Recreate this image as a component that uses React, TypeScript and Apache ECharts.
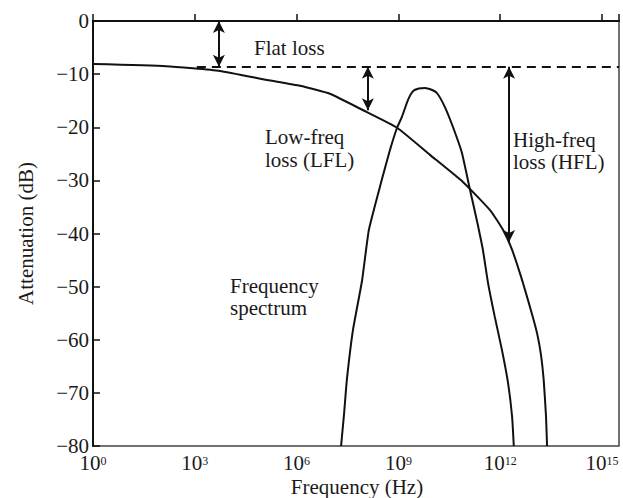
import React, { useEffect, useRef } from "react";
import * as echarts from "echarts";

// Channel attenuation curve: x = log10(frequency in Hz), y = attenuation in dB
const attenFreqExp = [0, 2.15, 3.74, 5.13, 6.1, 6.98, 7.96, 8.96, 9.93, 10.9, 11.7, 12.08, 12.35, 12.67, 12.96, 13.09, 13.2, 13.28, 13.35, 13.38];
const attenDb = [-8.1, -8.5, -9.4, -11.1, -12.2, -13.7, -16.8, -20.1, -25.2, -30.3, -35.6, -39.3, -43.1, -49.3, -55.7, -58.9, -62.8, -67.5, -74.5, -80];

// Signal frequency spectrum
const specFreqExp = [7.31, 7.4, 7.48, 7.66, 7.93, 8.13, 8.51, 8.75, 8.96, 9.1, 9.28, 9.43, 9.6, 9.78, 9.96, 10.14, 10.37, 10.61, 10.87, 11.11, 11.31, 11.49, 11.64, 11.84, 12.05, 12.23, 12.35, 12.4];
const specDb = [-80, -73.8, -67.6, -58.2, -48.8, -39.3, -29.9, -24.3, -20.1, -18.1, -14.9, -13.2, -12.7, -12.6, -12.9, -13.6, -16.2, -20.0, -24.8, -31.8, -37.5, -43.1, -49.3, -55.7, -61.9, -68.1, -74.5, -80];

// Reference (flat loss) level and loss arrows
const flatLossDb = -8.6;
const flatLineStartExp = 3.06;
const flatArrowExp = 3.71;
const lflArrow = { exp: 8.1, to: -16.8 };
const hflArrow = { exp: 12.26, to: -41.6 };

const xTickExps = [0, 3, 6, 9, 12, 15];
const xMax = 15.5;
const yTicks = { min: -80, max: 0, step: 10 };

const FONT = "Liberation Serif";
const FS = 21;

export default function App() {
  const ref = useRef<HTMLDivElement>(null);
  useEffect(() => {
    if (!ref.current) return;
    const chart = echarts.init(ref.current, null, { renderer: "svg" });
    const textStyle = (text: string, x: number, y: number, align = "left") => ({
      type: "text",
      x,
      y,
      style: { text, fontFamily: FONT, fontSize: FS, fill: "#1a1a1a", verticalAlign: "middle", align },
    });
    chart.setOption({
      animation: false,
      backgroundColor: "#fff",
      textStyle: { fontFamily: FONT },
      grid: {
        left: 93,
        right: 4,
        top: 21,
        bottom: 52,
        containLabel: false,
        outerBoundsMode: "none",
        show: true,
        borderColor: "#444",
        borderWidth: 1.5,
      },
      xAxis: {
        type: "value",
        min: 0,
        max: xMax,
        interval: 3,
        axisLine: { show: true, lineStyle: { color: "#111", width: 2 } },
        axisTick: { show: true, inside: true, length: 7, lineStyle: { color: "#111", width: 1.5 } },
        splitLine: { show: false },
        axisLabel: {
          margin: 9,
          color: "#1a1a1a",
          fontFamily: FONT,
          formatter: (v: number) => (xTickExps.includes(v) ? `{b|10}{s|${v}}` : ""),
          rich: {
            b: { fontFamily: FONT, fontSize: FS, color: "#1a1a1a", verticalAlign: "bottom", lineHeight: 18 },
            s: { fontFamily: FONT, fontSize: 12, color: "#1a1a1a", verticalAlign: "top", lineHeight: 18 },
          },
        },
      },
      yAxis: {
        type: "value",
        min: yTicks.min,
        max: yTicks.max,
        interval: yTicks.step,
        name: "Attenuation (dB)",
        nameLocation: "middle",
        nameGap: 57,
        nameRotate: 90,
        nameTextStyle: { fontFamily: FONT, fontSize: FS, color: "#1a1a1a" },
        axisLine: { show: true, lineStyle: { color: "#111", width: 2 } },
        axisTick: { show: true, inside: true, length: 7, lineStyle: { color: "#111", width: 1.5 } },
        splitLine: { show: false },
        axisLabel: {
          margin: 4,
          fontFamily: FONT,
          fontSize: FS,
          color: "#1a1a1a",
          formatter: (v: number) => (v < 0 ? "\u2212" + Math.abs(v) : String(v)),
        },
      },
      series: [
        {
          type: "line",
          data: attenFreqExp.map((e, i) => [e, attenDb[i]]),
          showSymbol: false,
          smooth: 0.15,
          lineStyle: { color: "#111", width: 2 },
          silent: true,
          markLine: {
            silent: true,
            symbol: "none",
            label: { show: false },
            lineStyle: { color: "#111", width: 2, type: [9, 6] },
            data: [[{ coord: [flatLineStartExp, flatLossDb] }, { coord: [xMax, flatLossDb] }]],
          },
        },
        {
          type: "line",
          data: specFreqExp.map((e, i) => [e, specDb[i]]),
          showSymbol: false,
          smooth: 0.15,
          lineStyle: { color: "#111", width: 2 },
          silent: true,
          markLine: {
            silent: true,
            symbol: ["arrow", "arrow"],
            symbolSize: [9, 12],
            label: { show: false },
            lineStyle: { color: "#111", width: 2, type: "solid" },
            data: [
              [{ coord: [flatArrowExp, 0] }, { coord: [flatArrowExp, flatLossDb] }],
              [{ coord: [lflArrow.exp, flatLossDb] }, { coord: [lflArrow.exp, lflArrow.to] }],
              [{ coord: [hflArrow.exp, flatLossDb] }, { coord: [hflArrow.exp, hflArrow.to] }],
            ],
          },
        },
      ],
      graphic: [
        textStyle("Flat loss", 254, 48),
        textStyle("Low-freq", 265, 137),
        textStyle("loss (LFL)", 265, 160),
        textStyle("High-freq", 513, 140),
        textStyle("loss (HFL)", 513, 162),
        textStyle("Frequency", 230, 286),
        textStyle("spectrum", 230, 308),
        textStyle("Frequency (Hz)", 357, 487, "center"),
      ],
    });
    return () => chart.dispose();
  }, []);
  return <div ref={ref} style={{ position: "fixed", left: 0, top: 0, width: 623, height: 498 }} />;
}
